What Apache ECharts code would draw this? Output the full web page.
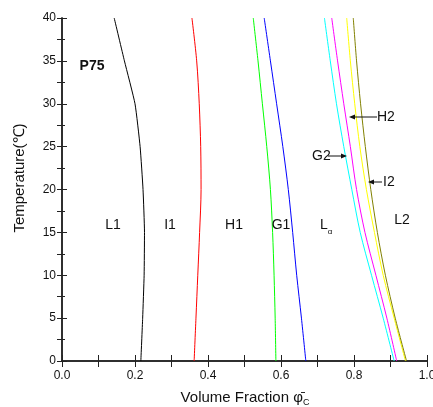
<!DOCTYPE html>
<html><head><meta charset="utf-8">
<script src="https://cdn.jsdelivr.net/npm/echarts@6/dist/echarts.min.js"></script>
<style>html,body{margin:0;padding:0;background:#fff}#c{width:433px;height:407px}</style>
</head><body><div id="c"></div>
<script>
// Temperature levels (°C) and boundary compositions (volume fraction)
var temps = [40, 35, 30, 25, 20, 15, 10, 5, 0];
var bL1I1 = [0.143, 0.171, 0.200, 0.214, 0.222, 0.226, 0.225, 0.221, 0.216];
var bI1H1 = [0.356, 0.369, 0.376, 0.380, 0.381, 0.377, 0.372, 0.367, 0.362];
var bH1G1 = [0.524, 0.537, 0.549, 0.561, 0.571, 0.577, 0.581, 0.584, 0.586];
var bG1La = [0.554, 0.571, 0.588, 0.605, 0.620, 0.632, 0.643, 0.656, 0.668];
var bLaG2 = [0.719, 0.735, 0.752, 0.772, 0.794, 0.817, 0.848, 0.880, 0.910];
var bG2H2 = [0.739, 0.755, 0.772, 0.790, 0.807, 0.830, 0.860, 0.890, 0.917];
var bH2I2 = [0.780, 0.790, 0.802, 0.816, 0.834, 0.856, 0.880, 0.910, 0.941];
var bI2L2 = [0.798, 0.807, 0.818, 0.831, 0.846, 0.864, 0.886, 0.913, 0.944];
var colors = ['#000000', '#ff0000', '#00ff00', '#0000ff', '#00ffff', '#ff00ff', '#ffff00', '#808000'];
var boundaries = [bL1I1, bI1H1, bH1G1, bG1La, bLaG2, bG2H2, bH2I2, bI2L2];
var xTicks = ['0.0', '0.2', '0.4', '0.6', '0.8', '1.0'];

var chart = echarts.init(document.getElementById('c'), null, {renderer: 'canvas'});
var FONT = 'Liberation Sans, Arial, sans-serif';
var axisLine = {show: true, lineStyle: {color: '#222', width: 1.5}};

var series = boundaries.map(function (b, i) {
  return {
    type: 'line', xAxisIndex: 0, yAxisIndex: 0,
    data: temps.map(function (t, k) { return [b[k], t]; }),
    smooth: i === 0 ? 0.15 : 0.3, showSymbol: false, symbol: 'none',
    lineStyle: {color: colors[i], width: 1}, silent: true, animation: false
  };
});

function txt(text, x, y, opts) {
  opts = opts || {};
  return {type: 'text', x: x, y: y, silent: true, z: 100, rotation: opts.rot || 0,
    style: {text: text, fill: '#111', font: (opts.bold ? 'bold ' : '') + (opts.size || 14) + 'px ' + FONT,
      align: opts.align || 'center', verticalAlign: 'middle'}};
}
function arrow(x1, x2, y) {
  var dir = x2 > x1 ? 1 : -1;
  return [
    {type: 'line', silent: true, z: 100, shape: {x1: x1, y1: y, x2: x2 - dir * 5, y2: y}, style: {stroke: '#111', lineWidth: 1}},
    {type: 'polygon', silent: true, z: 100, shape: {points: [[x2, y], [x2 - dir * 6, y - 2.5], [x2 - dir * 6, y + 2.5]]}, style: {fill: '#111'}}
  ];
}

var graphics = [
  txt('P75', 92, 66, {bold: true}),
  txt('L1', 113, 225), txt('I1', 170, 225), txt('H1', 234, 225), txt('G1', 281, 225),
  txt('L', 324, 225), txt('α', 330, 232, {size: 8}),
  txt('L2', 402, 220),
  txt('H2', 377, 117, {align: 'left'}),
  txt('G2', 312, 156, {align: 'left'}),
  txt('I2', 383, 182, {align: 'left'}),
  {type: 'text', x: 20, y: 178, rotation: Math.PI / 2, silent: true,
    style: {text: 'Temperature(℃)', fill: '#111', font: '15px ' + FONT, align: 'center', verticalAlign: 'middle'}},
  {type: 'text', x: 245, y: 398, silent: true,
    style: {text: '{a|Volume Fraction }{b|φ̄}{c|C}', align: 'center', verticalAlign: 'middle',
      rich: {a: {font: '15px ' + FONT, fill: '#111'}, b: {font: '15px ' + FONT, fill: '#111'},
        c: {font: '9px ' + FONT, fill: '#111', padding: [10, 0, 0, 0]}}}}
].concat(arrow(377, 349, 117)).concat(arrow(328, 347, 156)).concat(arrow(382, 368, 182));

chart.setOption({
  animation: false,
  backgroundColor: '#fff',
  grid: {left: 62, right: 6, top: 18, bottom: 46, containLabel: false, outerBoundsMode: 'none'},
  xAxis: [
    {type: 'value', min: 0, max: 1, interval: 0.2, position: 'bottom',
      axisLine: axisLine, splitLine: {show: false},
      axisTick: {show: true, inside: true, length: 6, lineStyle: {color: '#222', width: 1}},
      minorTick: {show: true, splitNumber: 2, length: 6, lineStyle: {color: '#222', width: 1}},
      axisLabel: {color: '#111', fontFamily: FONT, fontSize: 12, margin: 9,
        formatter: function (v) { return xTicks[Math.round(v * 5)]; }}},
    {type: 'value', min: 0, max: 1, interval: 0.2, position: 'top',
      axisLine: axisLine, splitLine: {show: false}, axisLabel: {show: false},
      axisTick: {show: true, inside: true, length: 6, lineStyle: {color: '#222', width: 1}},
      minorTick: {show: true, splitNumber: 2, length: 6, lineStyle: {color: '#222', width: 1}}}
  ],
  yAxis: [
    {type: 'value', min: 0, max: 40, interval: 5, position: 'left',
      axisLine: axisLine, splitLine: {show: false},
      axisTick: {show: true, inside: true, length: 5, lineStyle: {color: '#222', width: 1}},
      minorTick: {show: true, splitNumber: 2, length: 3, lineStyle: {color: '#222', width: 1}},
      axisLabel: {color: '#111', fontFamily: FONT, fontSize: 12, margin: 6}},
    {type: 'value', min: 0, max: 40, interval: 5, position: 'right',
      axisLine: axisLine, splitLine: {show: false}, axisLabel: {show: false},
      axisTick: {show: true, inside: true, length: 5, lineStyle: {color: '#222', width: 1}},
      minorTick: {show: true, splitNumber: 2, length: 5, lineStyle: {color: '#222', width: 1}}}
  ],
  series: series,
  graphic: graphics
});
</script></body></html>
